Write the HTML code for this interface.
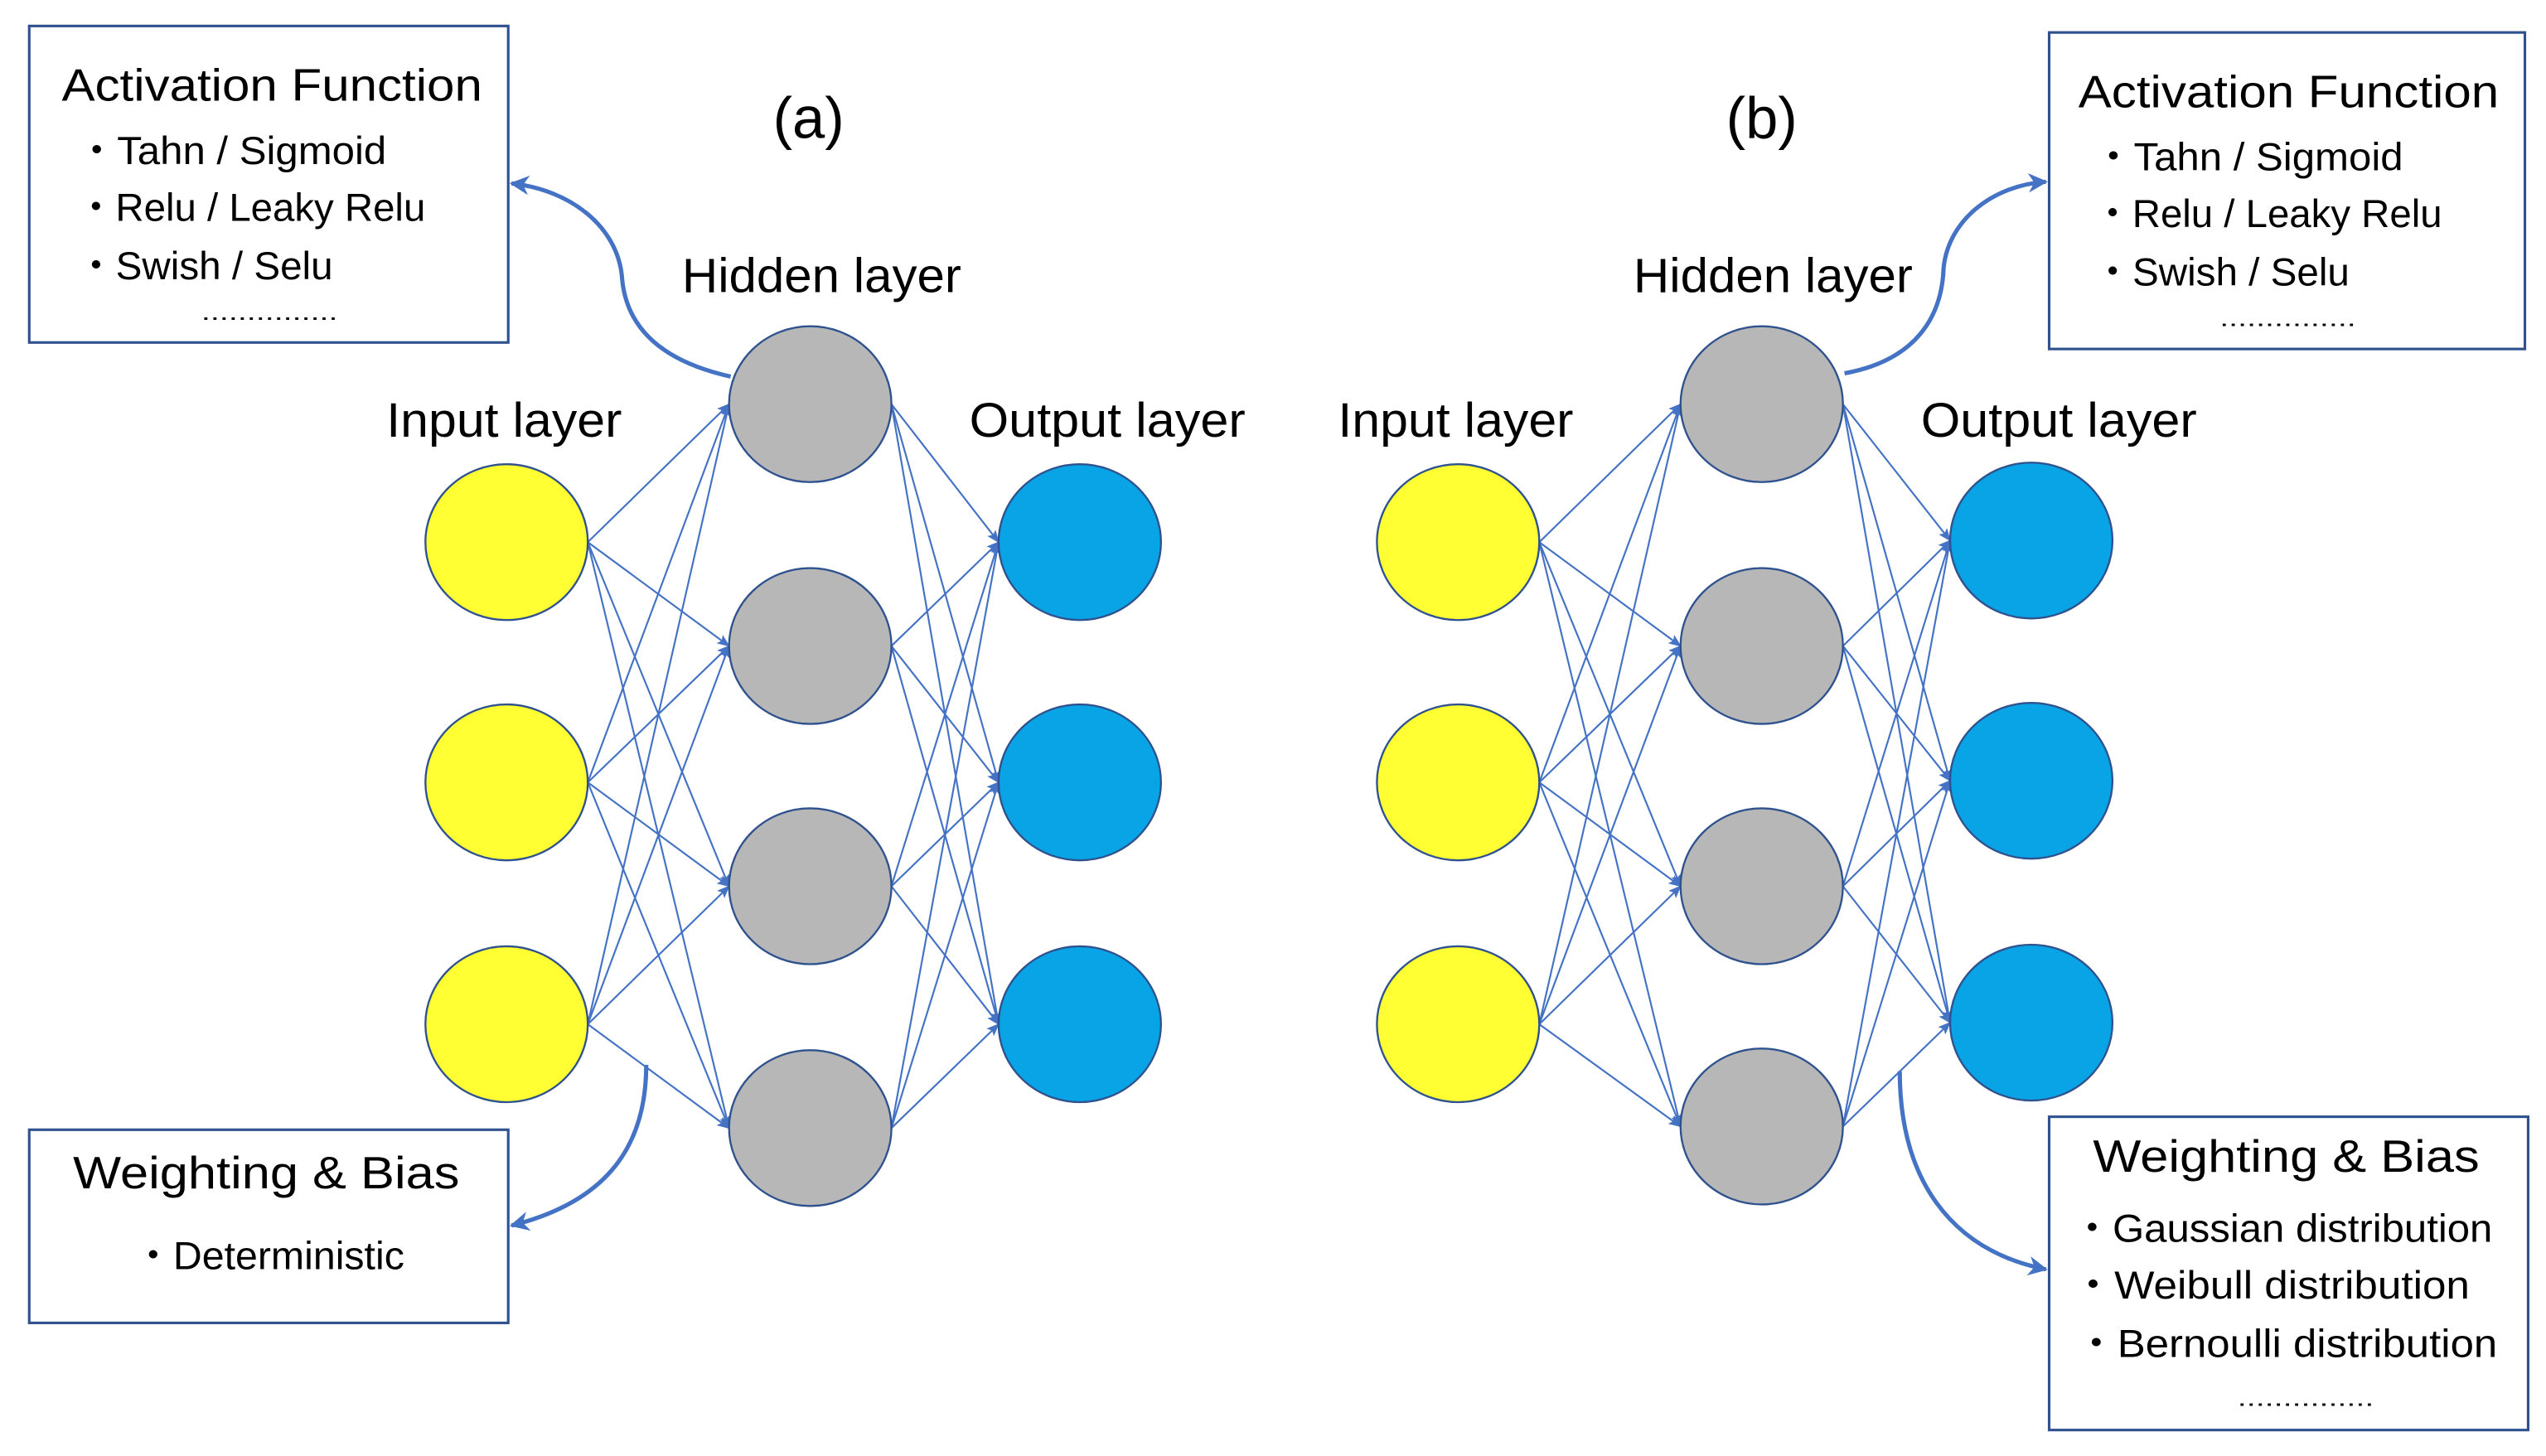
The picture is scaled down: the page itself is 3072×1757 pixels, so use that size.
<!DOCTYPE html>
<html><head><meta charset="utf-8"><style>
html,body{margin:0;padding:0;background:#fff;}
svg{display:block;}
text{font-family:"Liberation Sans",sans-serif;fill:#000;}
</style></head><body>
<svg width="3072" height="1757" viewBox="0 0 1568 897" preserveAspectRatio="none" xmlns="http://www.w3.org/2000/svg">
<defs>
<marker id="a" viewBox="0 0 10 10" refX="9" refY="5" markerWidth="8" markerHeight="8" orient="auto" markerUnits="userSpaceOnUse"><path d="M0,1 L10,5 L0,9 L2,5 z" fill="#4472c4"/></marker>
<marker id="b" viewBox="0 0 10 10" refX="9" refY="5" markerWidth="12" markerHeight="12" orient="auto" markerUnits="userSpaceOnUse"><path d="M0,0 L10,5 L0,10 L3,5 z" fill="#4472c4"/></marker>
</defs>
<g stroke="#4472c4" stroke-width="1.1" marker-end="url(#a)">
<line x1="362" y1="334" x2="449" y2="249"/><line x1="362" y1="334" x2="449" y2="398"/><line x1="362" y1="334" x2="449" y2="546"/><line x1="362" y1="334" x2="449" y2="695"/>
<line x1="362" y1="482" x2="449" y2="249"/><line x1="362" y1="482" x2="449" y2="398"/><line x1="362" y1="482" x2="449" y2="546"/><line x1="362" y1="482" x2="449" y2="695"/>
<line x1="362" y1="631" x2="449" y2="249"/><line x1="362" y1="631" x2="449" y2="398"/><line x1="362" y1="631" x2="449" y2="546"/><line x1="362" y1="631" x2="449" y2="695"/>
<line x1="549" y1="249" x2="615" y2="334"/><line x1="549" y1="249" x2="615" y2="482"/><line x1="549" y1="249" x2="615" y2="631"/>
<line x1="549" y1="398" x2="615" y2="334"/><line x1="549" y1="398" x2="615" y2="482"/><line x1="549" y1="398" x2="615" y2="631"/>
<line x1="549" y1="546" x2="615" y2="334"/><line x1="549" y1="546" x2="615" y2="482"/><line x1="549" y1="546" x2="615" y2="631"/>
<line x1="549" y1="695" x2="615" y2="334"/><line x1="549" y1="695" x2="615" y2="482"/><line x1="549" y1="695" x2="615" y2="631"/>
<line x1="948" y1="334" x2="1035" y2="249"/><line x1="948" y1="334" x2="1035" y2="398"/><line x1="948" y1="334" x2="1035" y2="546"/><line x1="948" y1="334" x2="1035" y2="694"/>
<line x1="948" y1="482" x2="1035" y2="249"/><line x1="948" y1="482" x2="1035" y2="398"/><line x1="948" y1="482" x2="1035" y2="546"/><line x1="948" y1="482" x2="1035" y2="694"/>
<line x1="948" y1="631" x2="1035" y2="249"/><line x1="948" y1="631" x2="1035" y2="398"/><line x1="948" y1="631" x2="1035" y2="546"/><line x1="948" y1="631" x2="1035" y2="694"/>
<line x1="1135" y1="249" x2="1201" y2="333"/><line x1="1135" y1="249" x2="1201" y2="481"/><line x1="1135" y1="249" x2="1201" y2="630"/>
<line x1="1135" y1="398" x2="1201" y2="333"/><line x1="1135" y1="398" x2="1201" y2="481"/><line x1="1135" y1="398" x2="1201" y2="630"/>
<line x1="1135" y1="546" x2="1201" y2="333"/><line x1="1135" y1="546" x2="1201" y2="481"/><line x1="1135" y1="546" x2="1201" y2="630"/>
<line x1="1135" y1="694" x2="1201" y2="333"/><line x1="1135" y1="694" x2="1201" y2="481"/><line x1="1135" y1="694" x2="1201" y2="630"/>
</g>
<g stroke="#2f528f" stroke-width="1.2">
<g fill="#ffff33"><ellipse cx="312" cy="334" rx="50" ry="48"/><ellipse cx="312" cy="482" rx="50" ry="48"/><ellipse cx="312" cy="631" rx="50" ry="48"/>
<ellipse cx="898" cy="334" rx="50" ry="48"/><ellipse cx="898" cy="482" rx="50" ry="48"/><ellipse cx="898" cy="631" rx="50" ry="48"/></g>
<g fill="#b7b7b7"><ellipse cx="499" cy="249" rx="50" ry="48"/><ellipse cx="499" cy="398" rx="50" ry="48"/><ellipse cx="499" cy="546" rx="50" ry="48"/><ellipse cx="499" cy="695" rx="50" ry="48"/>
<ellipse cx="1085" cy="249" rx="50" ry="48"/><ellipse cx="1085" cy="398" rx="50" ry="48"/><ellipse cx="1085" cy="546" rx="50" ry="48"/><ellipse cx="1085" cy="694" rx="50" ry="48"/></g>
<g fill="#09a4e6"><ellipse cx="665" cy="334" rx="50" ry="48"/><ellipse cx="665" cy="482" rx="50" ry="48"/><ellipse cx="665" cy="631" rx="50" ry="48"/>
<ellipse cx="1251" cy="333" rx="50" ry="48"/><ellipse cx="1251" cy="481" rx="50" ry="48"/><ellipse cx="1251" cy="630" rx="50" ry="48"/></g>
</g>
<g fill="none" stroke="#4472c4" stroke-width="2.6" marker-end="url(#b)">
<path d="M450,232 C405,222 385,200 383,170 C380,140 352,117 315,113"/>
<path d="M398,656 C398,705 375,740 315,755"/>
<path d="M1136,230 C1180,222 1196,195 1197,165 C1200,135 1228,114 1260,112"/>
<path d="M1170,660 C1170,725 1200,770 1260,782"/>
</g>
<g fill="none" stroke="#2f528f" stroke-width="1.6">
<rect x="18" y="16" width="295" height="195"/>
<rect x="18" y="696" width="295" height="119"/>
<rect x="1262" y="20" width="293" height="195"/>
<rect x="1262" y="688" width="295" height="193"/>
</g>
<g font-size="30">
<text x="498" y="85" text-anchor="middle" font-size="36">(a)</text>
<text x="1085" y="85" text-anchor="middle" font-size="36">(b)</text>
<text x="420" y="180" textLength="172" lengthAdjust="spacingAndGlyphs">Hidden layer</text>
<text x="238" y="269" textLength="145" lengthAdjust="spacingAndGlyphs">Input layer</text>
<text x="597" y="269" textLength="170" lengthAdjust="spacingAndGlyphs">Output layer</text>
<text x="1006" y="180" textLength="172" lengthAdjust="spacingAndGlyphs">Hidden layer</text>
<text x="824" y="269" textLength="145" lengthAdjust="spacingAndGlyphs">Input layer</text>
<text x="1183" y="269" textLength="170" lengthAdjust="spacingAndGlyphs">Output layer</text>
</g>
<g font-size="28">
<text x="38" y="62" textLength="259" lengthAdjust="spacingAndGlyphs">Activation Function</text>
<text x="1280" y="66" textLength="259" lengthAdjust="spacingAndGlyphs">Activation Function</text>
<text x="45" y="732" textLength="238" lengthAdjust="spacingAndGlyphs">Weighting &amp; Bias</text>
<text x="1289" y="722" textLength="238" lengthAdjust="spacingAndGlyphs">Weighting &amp; Bias</text>
</g>
<g font-size="24">
<text x="47" y="101" textLength="191" lengthAdjust="spacingAndGlyphs">・Tahn / Sigmoid</text>
<text x="47" y="136" textLength="215" lengthAdjust="spacingAndGlyphs">・Relu / Leaky Relu</text>
<text x="47" y="172" textLength="158" lengthAdjust="spacingAndGlyphs">・Swish / Selu</text>
<text x="124" y="197" font-size="14" textLength="84" lengthAdjust="spacingAndGlyphs">...............</text>
<text x="1289" y="105" textLength="191" lengthAdjust="spacingAndGlyphs">・Tahn / Sigmoid</text>
<text x="1289" y="140" textLength="215" lengthAdjust="spacingAndGlyphs">・Relu / Leaky Relu</text>
<text x="1289" y="176" textLength="158" lengthAdjust="spacingAndGlyphs">・Swish / Selu</text>
<text x="1367" y="201" font-size="14" textLength="84" lengthAdjust="spacingAndGlyphs">...............</text>
<text x="82" y="782" textLength="167" lengthAdjust="spacingAndGlyphs">・Deterministic</text>
<text x="1276" y="765" textLength="259" lengthAdjust="spacingAndGlyphs">・Gaussian distribution</text>
<text x="1276" y="800" textLength="245" lengthAdjust="spacingAndGlyphs">・Weibull distribution</text>
<text x="1278" y="836" textLength="260" lengthAdjust="spacingAndGlyphs">・Bernoulli distribution</text>
<text x="1378" y="866" font-size="14" textLength="84" lengthAdjust="spacingAndGlyphs">...............</text>
</g>
</svg>
</body></html>
